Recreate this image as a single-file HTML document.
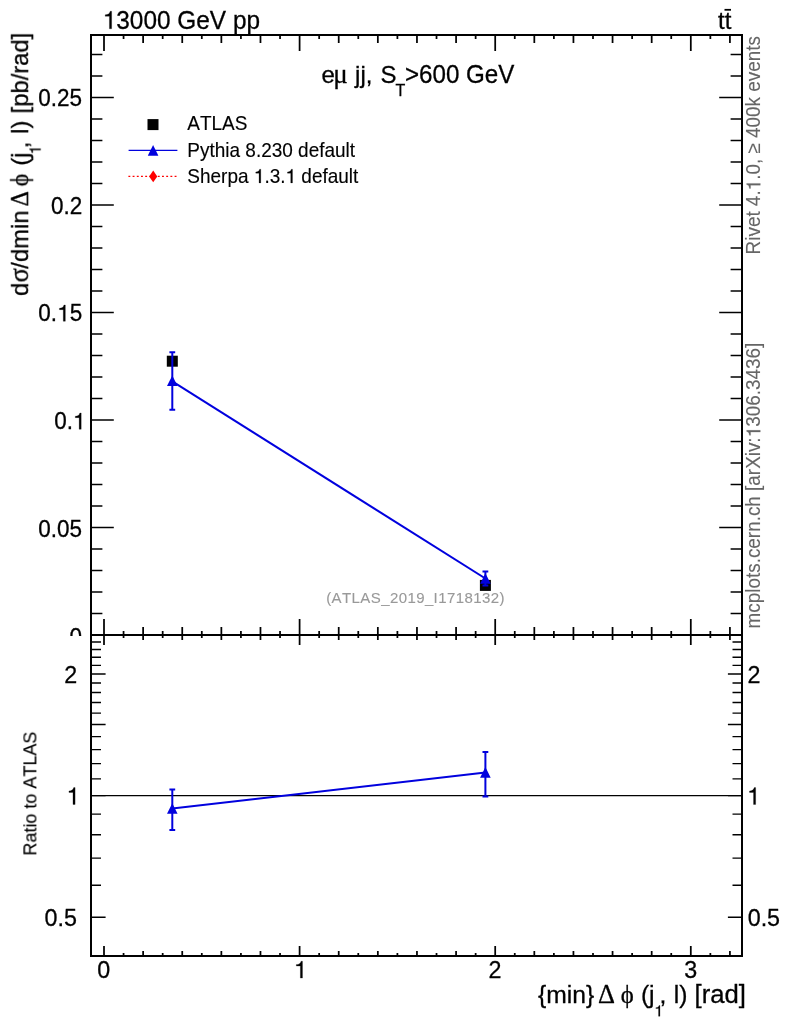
<!DOCTYPE html>
<html><head><meta charset="utf-8"><title>plot</title><style>html,body{margin:0;padding:0;background:#fff}svg{display:block}text{font-kerning:none}</style></head><body>
<svg width="786" height="1024" viewBox="0 0 786 1024" style="will-change:transform">
<rect width="786" height="1024" fill="#fff"/>
<g opacity="0.999">
<g stroke="#000" stroke-width="2" fill="none">
<path d="M104.00 35.0v16M104.00 619.0V645.0M104.00 956.0v-10M123.56 35.0v4M123.56 631.0V638.0M123.56 956.0v-3M143.12 35.0v8M143.12 627.0V640.0M143.12 956.0v-5M162.68 35.0v4M162.68 631.0V638.0M162.68 956.0v-3M182.24 35.0v8M182.24 627.0V640.0M182.24 956.0v-5M201.80 35.0v4M201.80 631.0V638.0M201.80 956.0v-3M221.36 35.0v8M221.36 627.0V640.0M221.36 956.0v-5M240.92 35.0v4M240.92 631.0V638.0M240.92 956.0v-3M260.48 35.0v8M260.48 627.0V640.0M260.48 956.0v-5M280.04 35.0v4M280.04 631.0V638.0M280.04 956.0v-3M299.60 35.0v16M299.60 619.0V645.0M299.60 956.0v-10M319.16 35.0v4M319.16 631.0V638.0M319.16 956.0v-3M338.72 35.0v8M338.72 627.0V640.0M338.72 956.0v-5M358.28 35.0v4M358.28 631.0V638.0M358.28 956.0v-3M377.84 35.0v8M377.84 627.0V640.0M377.84 956.0v-5M397.40 35.0v4M397.40 631.0V638.0M397.40 956.0v-3M416.96 35.0v8M416.96 627.0V640.0M416.96 956.0v-5M436.52 35.0v4M436.52 631.0V638.0M436.52 956.0v-3M456.08 35.0v8M456.08 627.0V640.0M456.08 956.0v-5M475.64 35.0v4M475.64 631.0V638.0M475.64 956.0v-3M495.20 35.0v16M495.20 619.0V645.0M495.20 956.0v-10M514.76 35.0v4M514.76 631.0V638.0M514.76 956.0v-3M534.32 35.0v8M534.32 627.0V640.0M534.32 956.0v-5M553.88 35.0v4M553.88 631.0V638.0M553.88 956.0v-3M573.44 35.0v8M573.44 627.0V640.0M573.44 956.0v-5M593.00 35.0v4M593.00 631.0V638.0M593.00 956.0v-3M612.56 35.0v8M612.56 627.0V640.0M612.56 956.0v-5M632.12 35.0v4M632.12 631.0V638.0M632.12 956.0v-3M651.68 35.0v8M651.68 627.0V640.0M651.68 956.0v-5M671.24 35.0v4M671.24 631.0V638.0M671.24 956.0v-3M690.80 35.0v16M690.80 619.0V645.0M690.80 956.0v-10M710.36 35.0v4M710.36 631.0V638.0M710.36 956.0v-3M729.92 35.0v8M729.92 627.0V640.0M729.92 956.0v-5" stroke-width="1.75"/>
<path d="M91.0 613.50h11.4M742.0 613.50h-11.4M91.0 592.00h11.4M742.0 592.00h-11.4M91.0 570.50h11.4M742.0 570.50h-11.4M91.0 549.00h11.4M742.0 549.00h-11.4M91.0 527.50h22.8M742.0 527.50h-22.8M91.0 506.00h11.4M742.0 506.00h-11.4M91.0 484.50h11.4M742.0 484.50h-11.4M91.0 463.00h11.4M742.0 463.00h-11.4M91.0 441.50h11.4M742.0 441.50h-11.4M91.0 420.00h22.8M742.0 420.00h-22.8M91.0 398.50h11.4M742.0 398.50h-11.4M91.0 377.00h11.4M742.0 377.00h-11.4M91.0 355.50h11.4M742.0 355.50h-11.4M91.0 334.00h11.4M742.0 334.00h-11.4M91.0 312.50h22.8M742.0 312.50h-22.8M91.0 291.00h11.4M742.0 291.00h-11.4M91.0 269.50h11.4M742.0 269.50h-11.4M91.0 248.00h11.4M742.0 248.00h-11.4M91.0 226.50h11.4M742.0 226.50h-11.4M91.0 205.00h22.8M742.0 205.00h-22.8M91.0 183.50h11.4M742.0 183.50h-11.4M91.0 162.00h11.4M742.0 162.00h-11.4M91.0 140.50h11.4M742.0 140.50h-11.4M91.0 119.00h11.4M742.0 119.00h-11.4M91.0 97.50h22.8M742.0 97.50h-22.8M91.0 76.00h11.4M742.0 76.00h-11.4M91.0 54.50h11.4M742.0 54.50h-11.4M91.0 917.20h14.6M742.0 917.20h-14.1M91.0 885.22h10M742.0 885.22h-9.5M91.0 858.17h10M742.0 858.17h-9.5M91.0 834.75h10M742.0 834.75h-9.5M91.0 814.08h10M742.0 814.08h-9.5M91.0 795.60h14.6M742.0 795.60h-14.1M91.0 778.88h10M742.0 778.88h-9.5M91.0 763.62h10M742.0 763.62h-9.5M91.0 749.57h10M742.0 749.57h-9.5M91.0 736.57h10M742.0 736.57h-9.5M91.0 724.47h14.6M742.0 724.47h-14.1M91.0 713.15h10M742.0 713.15h-9.5M91.0 702.51h10M742.0 702.51h-9.5M91.0 692.48h10M742.0 692.48h-9.5M91.0 683.00h10M742.0 683.00h-9.5M91.0 674.00h14.6M742.0 674.00h-14.1M91.0 665.44h10M742.0 665.44h-9.5M91.0 657.28h10M742.0 657.28h-9.5M91.0 649.48h10M742.0 649.48h-9.5M91.0 642.02h10M742.0 642.02h-9.5" stroke-width="1.35"/>
<path d="M91.0 34.0V957.0M742.0 34.0V957.0M90.0 35.0H743.0M90.0 635.0H743.0M90.0 956.0H743.0"/>
</g>
<path d="M91.0 795.6H742.0" stroke="#000" stroke-width="1.2"/>
<rect x="166.80" y="355.70" width="11" height="11" fill="#000"/>
<rect x="479.90" y="579.90" width="11" height="11" fill="#000"/>
<path d="M172.3 381.4L485.4 578.5" stroke="#0000de" stroke-width="2" fill="none"/>
<path d="M172.30 352.20V409.80M169.40 352.20h5.8M169.40 409.80h5.8" stroke="#0000de" stroke-width="2" fill="none"/>
<path d="M485.40 571.60V585.60M482.50 571.60h5.8M482.50 585.60h5.8" stroke="#0000de" stroke-width="2" fill="none"/>
<path d="M167.00 386.00L177.60 386.00L172.30 375.40Z" fill="#0000de"/>
<path d="M480.10 583.80L490.70 583.80L485.40 573.20Z" fill="#0000de"/>
<path d="M172.3 808.6L485.4 772.5" stroke="#0000de" stroke-width="2" fill="none"/>
<path d="M172.30 789.40V830.00M169.40 789.40h5.8M169.40 830.00h5.8" stroke="#0000de" stroke-width="2" fill="none"/>
<path d="M485.40 752.00V796.60M482.50 752.00h5.8M482.50 796.60h5.8" stroke="#0000de" stroke-width="2" fill="none"/>
<path d="M167.00 813.80L177.60 813.80L172.30 803.20Z" fill="#0000de"/>
<path d="M480.10 777.70L490.70 777.70L485.40 767.10Z" fill="#0000de"/>
<rect x="147.50" y="119.10" width="11" height="11" fill="#000"/>
<path d="M128.6 150.4H177.4" stroke="#0000de" stroke-width="1.2"/>
<path d="M147.80 155.70L158.40 155.70L153.10 145.10Z" fill="#0000de"/>
<path d="M128.4 176.3H177.4" stroke="#ff0000" stroke-width="1.35" stroke-dasharray="1.9 2.3"/>
<path d="M153.2 170.6L157.3 176.4L153.2 182.2L149.1 176.4Z" fill="#ff0000"/>
<text transform="translate(187.3,130.2) scale(0.9709,1)" font-family="Liberation Sans, sans-serif" font-size="19.57" text-anchor="start" fill="#000" stroke="#000" stroke-width="0.15">ATLAS</text>
<text transform="translate(187.3,157.0) scale(0.9709,1)" font-family="Liberation Sans, sans-serif" font-size="19.57" text-anchor="start" fill="#000" stroke="#000" stroke-width="0.15">Pythia 8.230 default</text>
<text transform="translate(187.30,182.9) scale(0.9709,1)" font-family="Liberation Sans, sans-serif" font-size="19.57" fill="#000" stroke="#000" stroke-width="0.15" xml:space="preserve">Sherpa </text><path d="M259.05 182.90L259.05 173.17L255.77 173.17L255.77 171.99C257.74 171.87 259.20 171.26 259.64 169.23L260.78 169.23L260.78 182.90Z" fill="#000" stroke="#000" stroke-width="0.25"/><text transform="translate(264.41,182.9) scale(0.9709,1)" font-family="Liberation Sans, sans-serif" font-size="19.57" fill="#000" stroke="#000" stroke-width="0.15" xml:space="preserve">.3.</text><path d="M290.74 182.90L290.74 173.17L287.46 173.17L287.46 171.99C289.43 171.87 290.90 171.26 291.33 169.23L292.47 169.23L292.47 182.90Z" fill="#000" stroke="#000" stroke-width="0.25"/><text transform="translate(296.10,182.9) scale(0.9709,1)" font-family="Liberation Sans, sans-serif" font-size="19.57" fill="#000" stroke="#000" stroke-width="0.15" xml:space="preserve"> default</text>
<path d="M109.42 28.80L109.42 16.30L105.20 16.30L105.20 14.79C107.74 14.64 109.62 13.85 110.18 11.25L111.64 11.25L111.64 28.80Z" fill="#000" stroke="#000" stroke-width="0.25"/><text transform="translate(116.31,28.8) scale(0.9709,1)" font-family="Liberation Sans, sans-serif" font-size="25.13" fill="#000" stroke="#000" stroke-width="0.3" xml:space="preserve">3000 GeV pp</text>
<text transform="translate(718,29.4) scale(0.9804,1)" font-family="Liberation Sans, sans-serif" font-size="24.48" text-anchor="start" fill="#000" stroke="#000" stroke-width="0.3">tt</text>
<path d="M724.5 9.8h6.5" stroke="#000" stroke-width="1.8"/>
<text transform="translate(0,83) scale(1,1.03) translate(0,-83)" y="83" font-family="Liberation Sans, sans-serif" font-size="24" fill="#000" stroke="#000" stroke-width="0.3"><tspan x="321.5">e</tspan><tspan x="333.2" font-family="Liberation Serif, serif" font-size="27">μ</tspan><tspan x="355.1">jj,</tspan><tspan x="380.4">S</tspan><tspan x="395.5" y="95.8" font-size="16">T</tspan><tspan x="405" y="83" font-size="24.15">&gt;600 GeV</tspan></text>
<text x="326.2" y="603.2" font-family="Liberation Sans, sans-serif" font-size="15" fill="#999999" stroke="#999999" stroke-width="0.12" textLength="178.2" lengthAdjust="spacing">(ATLAS_2019_I1718132)</text>
<text transform="translate(38.35,106.0) scale(0.9615,1)" font-family="Liberation Sans, sans-serif" font-size="23.40" fill="#000" stroke="#000" stroke-width="0.3" xml:space="preserve">0.25</text>
<text transform="translate(51.05,213.6) scale(0.9615,1)" font-family="Liberation Sans, sans-serif" font-size="23.40" fill="#000" stroke="#000" stroke-width="0.3" xml:space="preserve">0.2</text>
<text transform="translate(38.35,321.3) scale(0.9615,1)" font-family="Liberation Sans, sans-serif" font-size="23.40" fill="#000" stroke="#000" stroke-width="0.3" xml:space="preserve">0.</text><path d="M63.28 321.30L63.28 309.66L59.39 309.66L59.39 308.25C61.73 308.12 63.46 307.38 63.98 304.96L65.33 304.96L65.33 321.30Z" fill="#000" stroke="#000" stroke-width="0.25"/><text transform="translate(69.63,321.3) scale(0.9615,1)" font-family="Liberation Sans, sans-serif" font-size="23.40" fill="#000" stroke="#000" stroke-width="0.3" xml:space="preserve">5</text>
<text transform="translate(54.22,429.3) scale(0.9615,1)" font-family="Liberation Sans, sans-serif" font-size="23.40" fill="#000" stroke="#000" stroke-width="0.3" xml:space="preserve">0.</text><path d="M79.15 429.30L79.15 417.66L75.26 417.66L75.26 416.25C77.60 416.12 79.33 415.38 79.85 412.96L81.20 412.96L81.20 429.30Z" fill="#000" stroke="#000" stroke-width="0.25"/>
<text transform="translate(38.35,536.7) scale(0.9615,1)" font-family="Liberation Sans, sans-serif" font-size="23.40" fill="#000" stroke="#000" stroke-width="0.3" xml:space="preserve">0.05</text>
<clipPath id="c0"><rect x="0" y="0" width="90" height="635.9"/></clipPath>
<g clip-path="url(#c0)"><text transform="translate(69.57,644.7) scale(0.9615,1)" font-family="Liberation Sans, sans-serif" font-size="23.40" fill="#000" stroke="#000" stroke-width="0.3" xml:space="preserve">0</text></g>
<text transform="translate(64.21,682.9) scale(0.9615,1)" font-family="Liberation Sans, sans-serif" font-size="24.23" fill="#000" stroke="#000" stroke-width="0.3" xml:space="preserve">2</text>
<text transform="translate(747.43,682.9) scale(0.9615,1)" font-family="Liberation Sans, sans-serif" font-size="24.23" fill="#000" stroke="#000" stroke-width="0.3" xml:space="preserve">2</text>
<path d="M72.98 804.50L72.98 792.45L68.95 792.45L68.95 790.99C71.37 790.85 73.17 790.08 73.70 787.58L75.10 787.58L75.10 804.50Z" fill="#000" stroke="#000" stroke-width="0.25"/>
<path d="M753.53 804.50L753.53 792.45L749.50 792.45L749.50 790.99C751.92 790.85 753.72 790.08 754.25 787.58L755.65 787.58L755.65 804.50Z" fill="#000" stroke="#000" stroke-width="0.25"/>
<text transform="translate(44.59,926.1) scale(0.9615,1)" font-family="Liberation Sans, sans-serif" font-size="24.23" fill="#000" stroke="#000" stroke-width="0.3" xml:space="preserve">0.5</text>
<text transform="translate(747.69,926.1) scale(0.9615,1)" font-family="Liberation Sans, sans-serif" font-size="24.23" fill="#000" stroke="#000" stroke-width="0.3" xml:space="preserve">0.5</text>
<text transform="translate(97.32,978.1) scale(0.9615,1)" font-family="Liberation Sans, sans-serif" font-size="24.23" fill="#000" stroke="#000" stroke-width="0.3" xml:space="preserve">0</text>
<path d="M300.36 978.10L300.36 966.05L296.32 966.05L296.32 964.59C298.75 964.45 300.54 963.68 301.08 961.18L302.48 961.18L302.48 978.10Z" fill="#000" stroke="#000" stroke-width="0.25"/>
<text transform="translate(488.52,978.1) scale(0.9615,1)" font-family="Liberation Sans, sans-serif" font-size="24.23" fill="#000" stroke="#000" stroke-width="0.3" xml:space="preserve">2</text>
<text transform="translate(684.19,978.1) scale(0.9615,1)" font-family="Liberation Sans, sans-serif" font-size="24.23" fill="#000" stroke="#000" stroke-width="0.3" xml:space="preserve">3</text>
<g transform="translate(28.1,296) rotate(-90) scale(0.9709,1)"><text y="0" font-family="Liberation Sans, sans-serif" font-size="24.51" fill="#000" stroke="#000" stroke-width="0.3"><tspan x="0">d</tspan><tspan x="14.01" font-family="Liberation Serif, serif" font-size="27.30">σ</tspan><tspan x="28.12">/dmin</tspan><tspan x="92.29" font-family="Liberation Serif, serif">Δ</tspan><tspan x="112.99" font-family="Liberation Serif, serif">ϕ</tspan><tspan x="134.21">(j</tspan><tspan x="152.34" y="0">,</tspan><tspan x="167.07">l)</tspan><tspan x="188.08">[pb/rad]</tspan></text><path d="M150.22 12.60L150.22 4.66L147.46 4.66L147.46 3.70C149.12 3.60 150.35 3.10 150.72 1.45L151.68 1.45L151.68 12.60Z" fill="#000" stroke="#000" stroke-width="0.25"/></g>
<text transform="translate(36.4,855.6) rotate(-90) scale(0.9524,1)" font-family="Liberation Sans, sans-serif" font-size="18.90" text-anchor="start" fill="#000" stroke="#000" stroke-width="0.12">Ratio to ATLAS</text>
<text y="1002.6" font-family="Liberation Sans, sans-serif" font-size="24.7" fill="#000" stroke="#000" stroke-width="0.3"><tspan x="538">{min}</tspan><tspan x="598.0" font-family="Liberation Serif, serif" font-size="26.4">Δ</tspan><tspan x="620.8" font-family="Liberation Serif, serif">ϕ</tspan><tspan x="640.9">(j</tspan><tspan x="659.4" y="1002.6">,</tspan><tspan x="673.8">l)</tspan><tspan x="694.5" font-size="25.7">[rad]</tspan></text><path d="M658.55 1016.30L658.55 1008.59L655.87 1008.59L655.87 1007.66C657.48 1007.57 658.67 1007.08 659.03 1005.48L659.96 1005.48L659.96 1016.30Z" fill="#000" stroke="#000" stroke-width="0.25"/>
<g transform="translate(760.3,254.4) rotate(-90)"><text transform="translate(0.00,0) scale(0.9662,1)" font-family="Liberation Sans, sans-serif" font-size="19.56" fill="#666666" stroke="#666666" stroke-width="0.1" xml:space="preserve">Rivet 4.</text><path d="M69.25 0.00L69.25 -9.73L65.98 -9.73L65.98 -10.91C67.95 -11.02 69.40 -11.64 69.84 -13.66L70.97 -13.66L70.97 0.00Z" fill="#666666" stroke="#666666" stroke-width="0.25"/><text transform="translate(74.58,0) scale(0.9662,1)" font-family="Liberation Sans, sans-serif" font-size="19.56" fill="#666666" stroke="#666666" stroke-width="0.1" xml:space="preserve">.0, ≥ 400k events</text></g>
<g transform="translate(760.3,628.4) rotate(-90)"><text transform="translate(0.00,0) scale(0.9662,1)" font-family="Liberation Sans, sans-serif" font-size="19.56" fill="#666666" stroke="#666666" stroke-width="0.1" xml:space="preserve">mcplots.cern.ch [arXiv:</text><path d="M196.34 0.00L196.34 -9.73L193.07 -9.73L193.07 -10.91C195.03 -11.02 196.49 -11.64 196.92 -13.66L198.06 -13.66L198.06 0.00Z" fill="#666666" stroke="#666666" stroke-width="0.25"/><text transform="translate(201.67,0) scale(0.9662,1)" font-family="Liberation Sans, sans-serif" font-size="19.56" fill="#666666" stroke="#666666" stroke-width="0.1" xml:space="preserve">306.3436]</text></g>
</g>
</svg>
</body></html>
